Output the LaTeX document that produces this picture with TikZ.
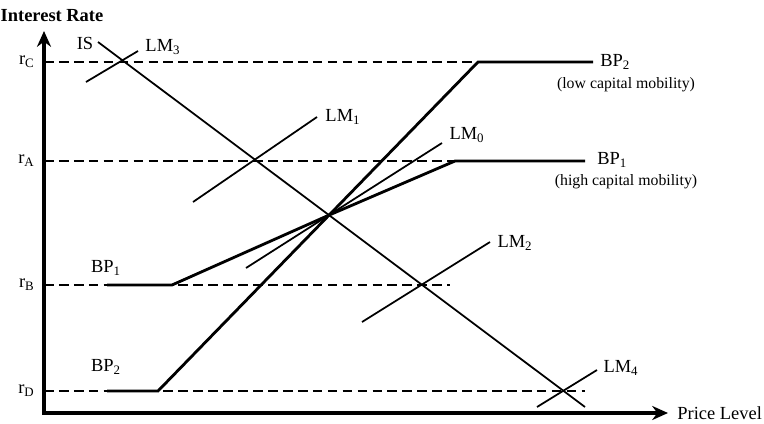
\documentclass[tikz,border=0pt]{standalone}
\usepackage{fontspec}
\setmainfont{Liberation Serif}
\usetikzlibrary{arrows.meta,positioning}

\begin{document}
\begin{tikzpicture}[x=0.02cm, y=-0.02cm,
    axis line/.style={line width=1.8pt, {Stealth[length=9pt,width=8pt]}-{Stealth[length=9pt,width=8pt]}},
    level line/.style={line width=0.7pt, dash pattern=on 5.5pt off 3pt},
    curve line/.style={line width=1pt},
    bp line/.style={line width=1.6pt},
    lbl/.style={font=\fontsize{10.5}{12}\selectfont, inner sep=0pt},
    note/.style={font=\fontsize{9}{11}\selectfont, inner sep=0pt}]
    \useasboundingbox (0,0) rectangle (764,423);

    % axes
    \coordinate (O) at (44,413);
    \coordinate (ytop) at (44,31);
    \coordinate (xend) at (668,413);
    \draw[axis line] (ytop) -- (O) -- (xend);
    \node[lbl, font=\fontsize{10.5}{12}\selectfont\bfseries] (ylabel) at (52,16) {Interest Rate};
    \node[lbl, anchor=west] (xlabel) at (677,413) {Price Level};

    % interest rate levels
    \node[lbl, anchor=east] (rC) at (35,62) {r\textsubscript{C}};
    \node[lbl, anchor=east] (rA) at (35,161) {r\textsubscript{A}};
    \node[lbl, anchor=east] (rB) at (35,285) {r\textsubscript{B}};
    \node[lbl, anchor=east] (rD) at (35,391) {r\textsubscript{D}};
    \draw[level line] (44,62) -- (478,62);
    \draw[level line] (44,161) -- (455,161);
    \draw[level line] (44,285) -- (450,285);
    \draw[level line] (44,391) -- (585,391);

    % IS and LM curves
    \coordinate (E) at (327,216);
    \draw[curve line] (98,42) -- (585,407);
    \node[lbl] (IS) at (85,43) {IS};
    \draw[curve line] (86,82) -- (138,51);
    \node[lbl] (LM3) at (163,47) {LM\textsubscript{3}};
    \draw[curve line] (193,202) -- (317,117);
    \node[lbl] (LM1) at (343,117) {LM\textsubscript{1}};
    \draw[curve line] (246,268) -- (442,143);
    \node[lbl] (LM0) at (467,135) {LM\textsubscript{0}};
    \draw[curve line] (362,322) -- (490,242);
    \node[lbl] (LM2) at (515,243) {LM\textsubscript{2}};
    \draw[curve line] (537,407) -- (597,370);
    \node[lbl] (LM4) at (621,368) {LM\textsubscript{4}};

    % BP curves
    \draw[bp line] (107,285) -- (172,285) -- (E) -- (455,161) -- (585,161);
    \node[lbl] (BP1l) at (106,268) {BP\textsubscript{1}};
    \node[lbl, anchor=west] (BP1r) at (597,160) {BP\textsubscript{1}};
    \node[note] (BP1n) at (626,182) {(high capital mobility)};
    \draw[bp line] (107,391) -- (158,391) -- (478,62) -- (593,62);
    \node[lbl] (BP2l) at (106,367) {BP\textsubscript{2}};
    \node[lbl, anchor=west] (BP2r) at (600,62) {BP\textsubscript{2}};
    \node[note] (BP2n) at (626,85) {(low capital mobility)};
\end{tikzpicture}
\end{document}
